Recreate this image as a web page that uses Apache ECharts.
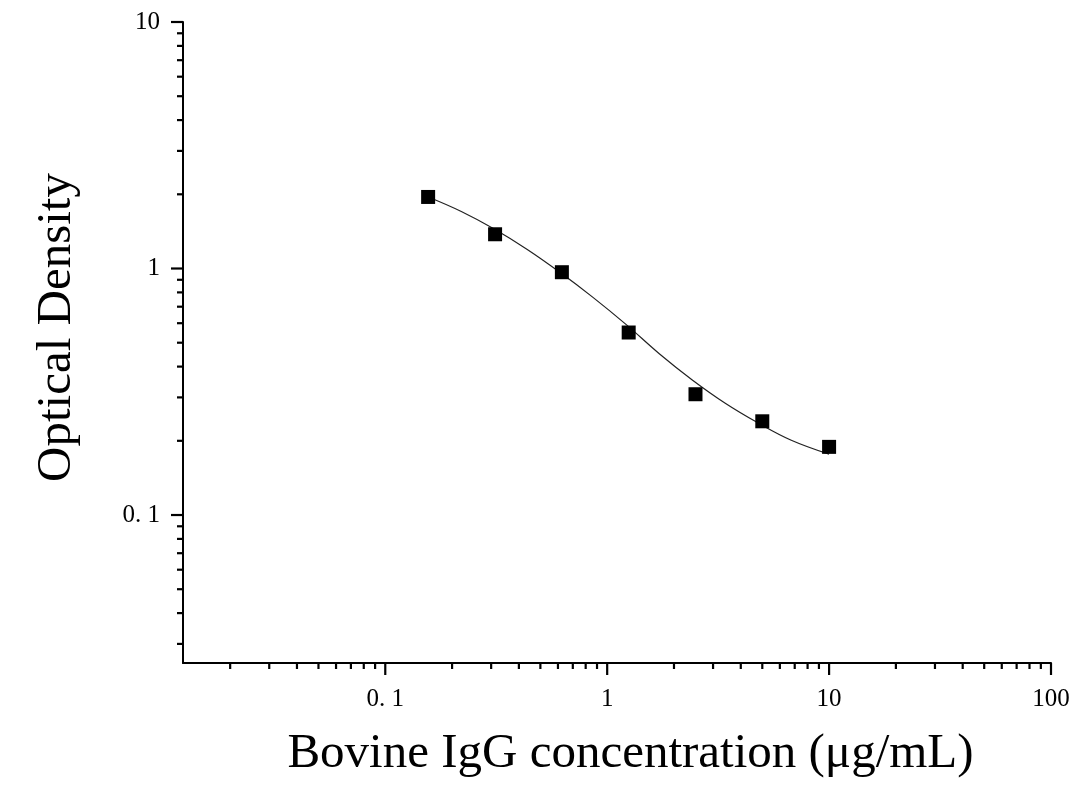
<!DOCTYPE html>
<html>
<head>
<meta charset="utf-8">
<script src="https://cdn.jsdelivr.net/npm/echarts@6/dist/echarts.min.js"></script>
<style>
html,body{margin:0;padding:0;background:#fff;}
#chart{width:1089px;height:791px;}
</style>
</head>
<body>
<div id="chart"></div>
<script>
// Standards (concentration, µg/mL) and measured optical density
const concentrations = [0.156, 0.3125, 0.625, 1.25, 2.5, 5, 10];
const opticalDensity = [1.951, 1.377, 0.966, 0.550, 0.309, 0.240, 0.189];

// Fitted curve
const curveX = [0.1562, 0.2201, 0.3098, 0.4364, 0.6145, 0.8657, 1.219, 1.717, 2.418, 3.405, 4.797, 6.755, 10];
const curveY = [1.951, 1.704, 1.447, 1.195, 0.963, 0.762, 0.592, 0.451, 0.353, 0.284, 0.236, 0.201, 0.1765];

// Axis ranges and tick labels
const X_MIN = 0.01226, X_MAX = 100;
const Y_MIN = 0.0251, Y_MAX = 10;
const xTickValues = [0.1, 1, 10, 100];
const xTickLabels = ['0. 1', '1', '10', '100'];
const yTickValues = [0.1, 1, 10];
const yTickLabels = ['0. 1', '1', '10'];

// Tick marks (1 = major, 0 = minor), 2..9 × powers of ten inside the axis range
function ticksIn(min, max) {
  const out = [];
  for (let e = -3; e <= 3; e++) {
    for (let m = 1; m <= 9; m++) {
      const v = m * Math.pow(10, e);
      if (v >= min * 0.999 && v <= max * 1.001) out.push([v, m === 1 ? 1 : 0]);
    }
  }
  return out;
}
const xTicks = ticksIn(X_MIN, X_MAX);
const yTicks = ticksIn(Y_MIN, Y_MAX);

const FONT = "'Liberation Serif', 'Times New Roman', serif";

function labelFor(values, labels) {
  return function (v) {
    for (let i = 0; i < values.length; i++) {
      if (Math.abs(Math.log10(v) - Math.log10(values[i])) < 1e-6) return labels[i];
    }
    return '';
  };
}

const chart = echarts.init(document.getElementById('chart'), null, {renderer: 'canvas'});

chart.setOption({
  animation: false,
  backgroundColor: '#fff',
  grid: {left: 183, right: 38, top: 22, bottom: 128, containLabel: false},
  xAxis: {
    type: 'log', logBase: 10, min: X_MIN, max: X_MAX,
    axisLine: {show: true, onZero: false, lineStyle: {color: '#000', width: 2}},
    axisTick: {show: false},
    minorTick: {show: false},
    splitLine: {show: false},
    axisLabel: {
      margin: 24, color: '#000', fontSize: 25, fontFamily: FONT,
      formatter: labelFor(xTickValues, xTickLabels)
    },
    name: 'Bovine IgG concentration (μg/mL)',
    nameLocation: 'middle', nameGap: 67,
    nameTextStyle: {fontSize: 49, fontFamily: FONT, color: '#000', padding: [0, 0, 0, 27]}
  },
  yAxis: {
    type: 'log', logBase: 10, min: Y_MIN, max: Y_MAX,
    axisLine: {show: true, onZero: false, lineStyle: {color: '#000', width: 2}},
    axisTick: {show: false},
    minorTick: {show: false},
    splitLine: {show: false},
    axisLabel: {
      margin: 23, color: '#000', fontSize: 25, fontFamily: FONT,
      formatter: labelFor(yTickValues, yTickLabels)
    },
    name: 'Optical Density',
    nameLocation: 'middle', nameGap: 101, nameRotate: 90,
    nameTextStyle: {fontSize: 49, fontFamily: FONT, color: '#000', padding: [0, 0, 0, 30]}
  },
  series: [
    {
      type: 'custom', name: 'xTicks', clip: false, silent: true,
      data: xTicks.map(t => [t[0], Y_MIN, t[1]]),
      renderItem: function (params, api) {
        const p = api.coord([api.value(0), api.value(1)]);
        const len = api.value(2) === 1 ? 12 : 6;
        return {type: 'line', shape: {x1: p[0], y1: p[1], x2: p[0], y2: p[1] + len},
                style: {stroke: '#000', lineWidth: 2.2}};
      }
    },
    {
      type: 'custom', name: 'yTicks', clip: false, silent: true,
      data: yTicks.map(t => [X_MIN, t[0], t[1]]),
      renderItem: function (params, api) {
        const p = api.coord([api.value(0), api.value(1)]);
        const len = api.value(2) === 1 ? 12 : 6;
        return {type: 'line', shape: {x1: p[0], y1: p[1], x2: p[0] - len, y2: p[1]},
                style: {stroke: '#000', lineWidth: 2.2}};
      }
    },
    {
      type: 'line', name: 'fit', smooth: 0.4, symbol: 'none', z: 2,
      lineStyle: {color: '#222', width: 1.2},
      data: curveX.map((x, i) => [x, curveY[i]])
    },
    {
      type: 'scatter', name: 'standards', symbol: 'rect', symbolSize: 14, z: 3,
      itemStyle: {color: '#000', opacity: 1},
      data: concentrations.map((x, i) => [x, opticalDensity[i]])
    }
  ]
});
</script>
</body>
</html>
